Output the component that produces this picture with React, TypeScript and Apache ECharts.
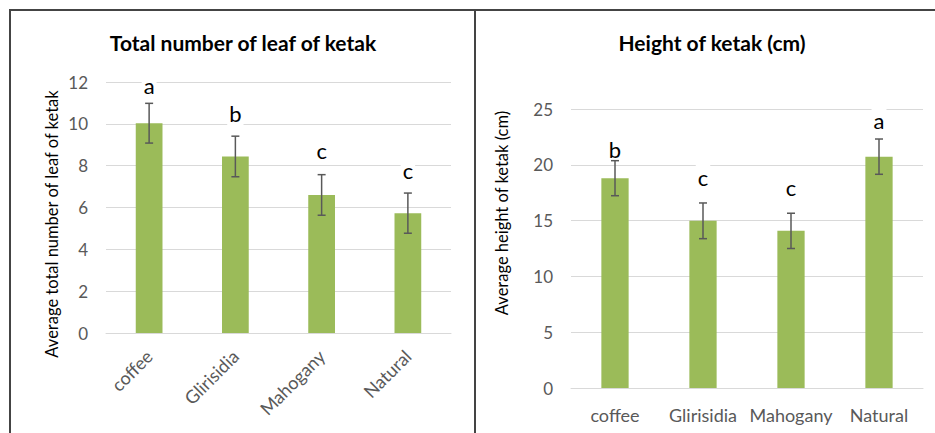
import React, { useEffect, useRef } from "react";
import * as echarts from "echarts";

const categories = ["coffee", "Glirisidia", "Mahogany", "Natural"];

const leafMeans = [10.03, 8.44, 6.6, 5.73];
const leafErrors = [0.95, 0.97, 0.97, 0.96];
const leafLetters = ["a", "b", "c", "c"];
const leafLetterY = [11.82, 10.48, 8.71, 7.76];
const leafTicks = { min: 0, max: 12, interval: 2 };

const heightMeans = [18.8, 14.98, 14.08, 20.73];
const heightErrors = [1.57, 1.6, 1.58, 1.58];
const heightLetters = ["b", "c", "c", "a"];
const heightLetterY = [21.33, 18.83, 17.94, 23.93];
const heightTicks = { min: 0, max: 25, interval: 5 };

const leafTitle = "Total number of leaf of ketak";
const heightTitle = "Height of ketak (cm)";
const leafAxisName = "Average total number of leaf of ketak";
const heightAxisName = "Average height of ketak (cm)";

const FONT = "Lato";
const GREEN = "#9BBB59";
const GRAY = "#595959";
const GRID = "#d9d9d9";

function errorData(means: number[], errs: number[]) {
  return means.map((m, i) => [i, m - errs[i], m + errs[i]]);
}

function errorSeries(idx: number, means: number[], errs: number[]) {
  return {
    type: "custom",
    xAxisIndex: idx,
    yAxisIndex: idx,
    z: 5,
    encode: { x: 0, y: [1, 2] },
    data: errorData(means, errs),
    renderItem: (params: any, api: any) => {
      const x = api.value(0);
      const lo = api.coord([x, api.value(1)]);
      const hi = api.coord([x, api.value(2)]);
      const hw = 4;
      const style = { stroke: GRAY, lineWidth: 1.5 };
      return {
        type: "group",
        children: [
          { type: "line", shape: { x1: lo[0], y1: lo[1], x2: hi[0], y2: hi[1] }, style },
          { type: "line", shape: { x1: hi[0] - hw, y1: hi[1], x2: hi[0] + hw, y2: hi[1] }, style },
          { type: "line", shape: { x1: lo[0] - hw, y1: lo[1], x2: lo[0] + hw, y2: lo[1] }, style },
        ],
      };
    },
  };
}

function letterSeries(idx: number, letters: string[], ys: number[], pad: number[]) {
  return {
    type: "custom",
    xAxisIndex: idx,
    yAxisIndex: idx,
    z: 4,
    encode: { x: 0, y: 1 },
    data: ys.map((y, i) => [i, y]),
    renderItem: (params: any, api: any) => {
      const p = api.coord([api.value(0), api.value(1)]);
      return {
        type: "text",
        x: p[0],
        y: p[1],
        style: {
          text: letters[params.dataIndex],
          fill: "#000",
          font: `22px ${FONT}`,
          align: "center",
          verticalAlign: "middle",
          backgroundColor: "#fff",
          padding: pad,
        },
      };
    },
  };
}

export default function App() {
  const ref = useRef<HTMLDivElement>(null);
  useEffect(() => {
    if (!ref.current) return;
    const chart = echarts.init(ref.current, null, { renderer: "svg" });
    const yAxisBase = {
      type: "value",
      axisLine: { show: false },
      axisTick: { show: false },
      axisLabel: { color: GRAY, fontSize: 17, fontFamily: FONT, margin: 18 },
      splitLine: { lineStyle: { color: GRID, width: 1 } },
    };
    const xAxisBase = {
      type: "category",
      data: categories,
      axisLine: { lineStyle: { color: GRID, width: 1 } },
      axisTick: { show: false },
    };
    const option: any = {
      animation: false,
      grid: [
        { left: 106, top: 82, width: 345, height: 251 },
        { left: 571, top: 109, width: 352, height: 279 },
      ],
      xAxis: [
        {
          ...xAxisBase,
          gridIndex: 0,
          axisLabel: { color: GRAY, fontSize: 18, fontFamily: FONT, rotate: 45, margin: 20, interval: 0 },
        },
        {
          ...xAxisBase,
          gridIndex: 1,
          axisLabel: { color: GRAY, fontSize: 18, fontFamily: FONT, margin: 18, interval: 0 },
        },
      ],
      yAxis: [
        { ...yAxisBase, gridIndex: 0, ...leafTicks },
        { ...yAxisBase, gridIndex: 1, ...heightTicks },
      ],
      series: [
        {
          type: "bar",
          xAxisIndex: 0,
          yAxisIndex: 0,
          data: leafMeans,
          barWidth: "31%",
          itemStyle: { color: GREEN },
          z: 2,
        },
        {
          type: "bar",
          xAxisIndex: 1,
          yAxisIndex: 1,
          data: heightMeans,
          barWidth: "31%",
          itemStyle: { color: GREEN },
          z: 2,
        },
        letterSeries(0, leafLetters, leafLetterY, [0, 2, 2, 2]),
        letterSeries(1, heightLetters, heightLetterY, [8, 2, 0, 2]),
        errorSeries(0, leafMeans, leafErrors),
        errorSeries(1, heightMeans, heightErrors),
      ],
      graphic: [
        { type: "line", shape: { x1: 9, y1: 10, x2: 935, y2: 10 }, style: { stroke: "#444", lineWidth: 2 } },
        { type: "line", shape: { x1: 10, y1: 10, x2: 10, y2: 433 }, style: { stroke: "#444", lineWidth: 2 } },
        { type: "line", shape: { x1: 475, y1: 10, x2: 475, y2: 433 }, style: { stroke: "#444", lineWidth: 2 } },
        {
          type: "text",
          x: 243,
          y: 42,
          style: { text: leafTitle, font: `bold 21px ${FONT}`, fill: "#000", align: "center", verticalAlign: "middle" },
        },
        {
          type: "text",
          x: 712,
          y: 42,
          style: { text: heightTitle, font: `bold 21px ${FONT}`, fill: "#000", align: "center", verticalAlign: "middle" },
        },
        {
          type: "text",
          x: 52,
          y: 224,
          rotation: Math.PI / 2,
          style: { text: leafAxisName, font: `16.5px ${FONT}`, fill: "#000", align: "center", verticalAlign: "middle" },
        },
        {
          type: "text",
          x: 502,
          y: 213,
          rotation: Math.PI / 2,
          style: { text: heightAxisName, font: `16.5px ${FONT}`, fill: "#000", align: "center", verticalAlign: "middle" },
        },
      ],
    };
    chart.setOption(option);
    return () => chart.dispose();
  }, []);
  return (
    <div
      ref={ref}
      style={{ position: "fixed", left: 0, top: 0, width: 935, height: 433, background: "#fff" }}
    />
  );
}
